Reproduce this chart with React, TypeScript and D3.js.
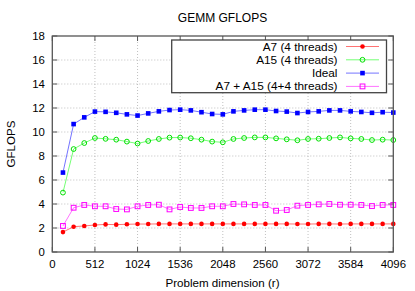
import React from "react";
import * as d3 from "d3";

const dims = [128,256,384,512,640,768,896,1024,1152,1280,1408,1536,1664,1792,1920,2048,2176,2304,2432,2560,2688,2816,2944,3072,3200,3328,3456,3584,3712,3840,3968,4096];
const a7 = [1.66,2.11,2.17,2.25,2.3,2.28,2.31,2.33,2.33,2.34,2.34,2.34,2.34,2.34,2.34,2.34,2.34,2.34,2.34,2.34,2.34,2.34,2.33,2.33,2.34,2.34,2.33,2.34,2.34,2.34,2.34,2.34];
const a15 = [4.95,8.58,9.08,9.5,9.43,9.36,9.2,9.04,9.25,9.42,9.53,9.54,9.48,9.36,9.2,9.14,9.42,9.5,9.55,9.55,9.47,9.39,9.31,9.42,9.44,9.5,9.55,9.47,9.42,9.33,9.36,9.33];
const ideal = [6.62,10.66,11.22,11.7,11.68,11.6,11.47,11.37,11.55,11.72,11.83,11.86,11.8,11.65,11.5,11.47,11.72,11.8,11.86,11.86,11.75,11.7,11.58,11.67,11.72,11.8,11.8,11.72,11.67,11.6,11.65,11.62];
const combo = [2.17,3.69,3.92,3.81,3.81,3.58,3.55,3.81,3.92,3.94,3.55,3.75,3.67,3.67,3.81,3.81,4.0,3.97,3.92,3.92,3.44,3.5,3.86,3.92,3.97,4.0,3.94,3.94,3.92,3.83,3.92,3.92];
const xTicks = [0,512,1024,1536,2048,2560,3072,3584,4096];
const yTicks = [0,2,4,6,8,10,12,14,16,18];
const seriesNames = ["A7 (4 threads)","A15 (4 threads)","Ideal","A7 + A15 (4+4 threads)"];

const FONT = "'Liberation Sans', Arial, Helvetica, sans-serif";

export default function App() {
  const W = 415, H = 291;
  const L = 52.3, R = 393.3, T = 36, B = 252;
  const x = d3.scaleLinear().domain([0, 4096]).range([L, R]);
  const y = d3.scaleLinear().domain([0, 18]).range([B, T]);
  const line = d3.line<number>().x((_, i) => x(dims[i])).y((d) => y(d));

  const series = [
    { name: seriesNames[0], data: a7, color: "#ff0000", marker: "fcircle" },
    { name: seriesNames[1], data: a15, color: "#00e000", lineColor: "#00ff00", marker: "ocircle" },
    { name: seriesNames[2], data: ideal, color: "#0000ff", marker: "fsquare" },
    { name: seriesNames[3], data: combo, color: "#ff00ff", marker: "osquare" },
  ];

  const marker = (type: string, cx: number, cy: number, color: string, key: any) => {
    if (type === "fcircle") return <circle key={key} cx={cx} cy={cy} r={2.3} fill={color} />;
    if (type === "ocircle") return <circle key={key} cx={cx} cy={cy} r={2.4} fill="none" stroke={color} strokeWidth={1} />;
    if (type === "fsquare") return <rect key={key} x={cx - 2.3} y={cy - 2.3} width={4.6} height={4.6} fill={color} />;
    return <rect key={key} x={cx - 2.4} y={cy - 2.4} width={4.8} height={4.8} fill="none" stroke={color} strokeWidth={1} />;
  };

  const legX1 = 171.7, legX2 = 386.5, legY1 = 40, legY2 = 92.7;
  const rowY = [46.5, 59.8, 73.1, 86.4];

  return (
    <svg width={W} height={H} style={{ position: "fixed", left: 0, top: 0, background: "#fff" }} fontFamily={FONT}>
      <rect x={0} y={0} width={W} height={H} fill="#fff" />
      {/* grid */}
      {xTicks.slice(1, -1).map((t) => (
        <line key={"gx" + t} x1={x(t)} x2={x(t)} y1={T} y2={B} stroke="#b0b0b0" strokeWidth={0.8} strokeDasharray="1,2" />
      ))}
      {yTicks.slice(1, -1).map((t) => (
        <line key={"gy" + t} x1={L} x2={R} y1={y(t)} y2={y(t)} stroke="#b0b0b0" strokeWidth={0.8} strokeDasharray="1,2" />
      ))}
      {/* ticks */}
      {xTicks.map((t) => (
        <g key={"tx" + t}>
          <line x1={x(t)} x2={x(t)} y1={B} y2={B - 5} stroke="#555" strokeWidth={1} />
          <line x1={x(t)} x2={x(t)} y1={T} y2={T + 5} stroke="#555" strokeWidth={1} />
          <text x={x(t)} y={264.3} fontSize={11.4} textAnchor="middle" dominantBaseline="central" fill="#000">{t}</text>
        </g>
      ))}
      {yTicks.map((t) => (
        <g key={"ty" + t}>
          <line x1={L} x2={L + 5} y1={y(t)} y2={y(t)} stroke="#555" strokeWidth={1} />
          <line x1={R} x2={R - 5} y1={y(t)} y2={y(t)} stroke="#555" strokeWidth={1} />
          <text x={44.8} y={y(t)} fontSize={11.4} textAnchor="end" dominantBaseline="central" fill="#000">{t}</text>
        </g>
      ))}
      {/* series */}
      {series.map((s, si) => (
        <g key={"s" + si}>
          <path d={line(s.data) || ""} fill="none" stroke={s.lineColor || s.color} strokeOpacity={0.55} strokeWidth={1} />
          {s.data.map((v, i) => marker(s.marker, x(dims[i]), y(v), s.color, i))}
        </g>
      ))}
      {/* frame */}
      <rect x={L} y={T} width={R - L} height={B - T} fill="none" stroke="#555" strokeWidth={1.3} />
      {/* legend */}
      <rect x={legX1} y={legY1} width={legX2 - legX1} height={legY2 - legY1} fill="#fff" stroke="#444" strokeWidth={1.3} />
      {series.map((s, i) => (
        <g key={"l" + i}>
          <text x={337.5} y={rowY[i]} fontSize={11.8} textAnchor="end" dominantBaseline="central" fill="#000">{s.name}</text>
          <line x1={346} x2={379} y1={rowY[i]} y2={rowY[i]} stroke={s.lineColor || s.color} strokeOpacity={0.55} strokeWidth={1} />
          {marker(s.marker, 362.5, rowY[i], s.color, "m")}
        </g>
      ))}
      {/* titles */}
      <text x={222.5} y={17.5} fontSize={12} textAnchor="middle" dominantBaseline="central" fill="#000">GEMM GFLOPS</text>
      <text x={222.5} y={282} fontSize={11.6} textAnchor="middle" dominantBaseline="central" fill="#000">Problem dimension (r)</text>
      <text transform={`translate(10.5,144) rotate(-90)`} fontSize={11.6} textAnchor="middle" dominantBaseline="central" fill="#000">GFLOPS</text>
    </svg>
  );
}
